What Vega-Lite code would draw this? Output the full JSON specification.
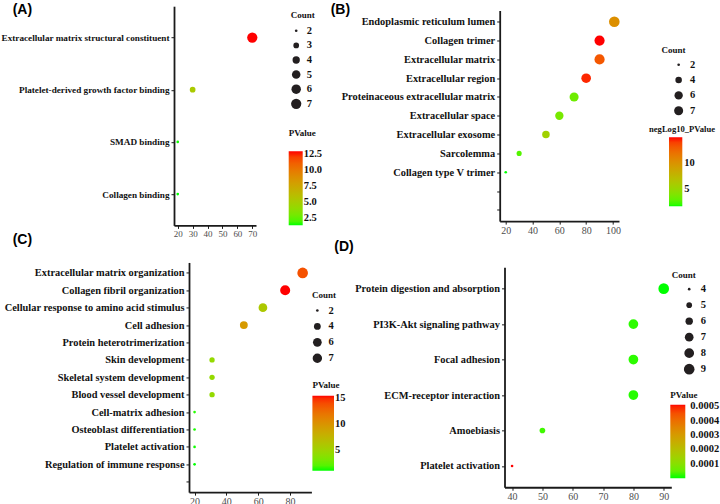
{
  "$schema": "https://vega.github.io/schema/vega-lite/v6.json",
  "padding": {"left": 0, "top": 2.8, "right": 0, "bottom": 0},
  "datasets": {
    "A": [
      {"Term": "Extracellular matrix structural constituent", "Ratio": 70, "Count": 7, "PValue": 12.92},
      {"Term": "Platelet-derived growth factor binding", "Ratio": 30, "Count": 3, "PValue": 5.2},
      {"Term": "SMAD binding", "Ratio": 20, "Count": 2, "PValue": 1.45},
      {"Term": "Collagen binding", "Ratio": 20, "Count": 2, "PValue": 1.41}
    ],
    "B": [
      {"Term": "Endoplasmic reticulum lumen", "Ratio": 101, "Count": 10, "negLog10_PValue": 10.3},
      {"Term": "Collagen trimer", "Ratio": 90, "Count": 9, "negLog10_PValue": 15},
      {"Term": "Extracellular matrix", "Ratio": 90, "Count": 9, "negLog10_PValue": 13.2},
      {"Term": "Extracellular region", "Ratio": 80, "Count": 8, "negLog10_PValue": 14.6},
      {"Term": "Proteinaceous extracellular matrix", "Ratio": 71, "Count": 7, "negLog10_PValue": 3.3},
      {"Term": "Extracellular space", "Ratio": 60, "Count": 6, "negLog10_PValue": 3.6},
      {"Term": "Extracellular exosome", "Ratio": 50, "Count": 5, "negLog10_PValue": 5.5},
      {"Term": "Sarcolemma", "Ratio": 30, "Count": 3, "negLog10_PValue": 2.6},
      {"Term": "Collagen type V trimer", "Ratio": 20, "Count": 2, "negLog10_PValue": 1.7}
    ],
    "C": [
      {"Term": "Extracellular matrix organization", "Ratio": 88, "Count": 9, "PValue": 13.8},
      {"Term": "Collagen fibril organization", "Ratio": 77, "Count": 8, "PValue": 15.5},
      {"Term": "Cellular response to amino acid stimulus", "Ratio": 63, "Count": 6, "PValue": 5.9},
      {"Term": "Cell adhesion", "Ratio": 51, "Count": 5, "PValue": 9.6},
      {"Term": "Skin development", "Ratio": 31, "Count": 3, "PValue": 4.4},
      {"Term": "Skeletal system development", "Ratio": 31, "Count": 3, "PValue": 4.4},
      {"Term": "Blood vessel development", "Ratio": 31, "Count": 3, "PValue": 4.4},
      {"Term": "Cell-matrix adhesion", "Ratio": 20, "Count": 2, "PValue": 1.2},
      {"Term": "Osteoblast differentiation", "Ratio": 20, "Count": 2, "PValue": 1.1},
      {"Term": "Platelet activation", "Ratio": 20, "Count": 2, "PValue": 1.05},
      {"Term": "Regulation of immune response", "Ratio": 20, "Count": 2, "PValue": 1.0}
    ],
    "D": [
      {"Term": "Protein digestion and absorption", "Ratio": 90, "Count": 9, "PValue": 0.0000005},
      {"Term": "PI3K-Akt signaling pathway", "Ratio": 80, "Count": 8, "PValue": 0.00001},
      {"Term": "Focal adhesion", "Ratio": 80, "Count": 8, "PValue": 0.00001},
      {"Term": "ECM-receptor interaction", "Ratio": 80, "Count": 8, "PValue": 0.000008},
      {"Term": "Amoebiasis", "Ratio": 50, "Count": 5, "PValue": 0.00002},
      {"Term": "Platelet activation", "Ratio": 40, "Count": 4, "PValue": 0.00051}
    ]
  },
  "concat": [
    {
      "hconcat": [
        {
          "data": {"name": "A"},
          "width": 82,
          "height": 219.2,
          "title": {"text": "(A)", "anchor": "start", "frame": "group", "orient": "top", "baseline": "alphabetic", "offset": 0, "dx": -161.3, "dy": 22.1},
          "mark": {"type": "circle", "opacity": 1},
          "encoding": {
            "x": {"field": "Ratio", "type": "quantitative", "scale": {"domain": [17.5, 72.5], "nice": false, "zero": false}, "axis": {"values": [20, 30, 40, 50, 60, 70], "labelFontSize": 9}},
            "y": {"field": "Term", "type": "nominal", "sort": null, "scale": {"type": "point", "padding": 0.6, "domain": ["Extracellular matrix structural constituent", "Platelet-derived growth factor binding", "SMAD binding", "Collagen binding"]}, "axis": {"labelFontSize": 9.2}},
            "size": {"field": "Count", "type": "quantitative", "scale": {"type": "sqrt", "zero": false, "domain": [2, 7], "range": [7, 105]},
              "legend": {"title": "Count", "orient": "none", "legendX": 116.7, "legendY": 4.6, "values": [2, 3, 4, 5, 6, 7], "clipHeight": 12, "rowPadding": 2.6, "titlePadding": 5, "labelOffset": 5}},
            "color": {"field": "PValue", "type": "quantitative", "scale": {"type": "linear", "domain": [1.41, 12.92], "range": ["#00ff00", "#ff0000"], "interpolate": "lab"},
              "legend": {"title": "PValue", "orient": "none", "legendX": 114.7, "legendY": 123, "direction": "vertical", "gradientLength": 74, "gradientThickness": 14, "values": [2.5, 5, 7.5, 10, 12.5], "format": ".1f", "labelOffset": 1, "titlePadding": 13}}
          }
        },
        {
          "data": {"name": "B"},
          "width": 119.3,
          "height": 210.6,
          "title": {"text": "(B)", "anchor": "start", "frame": "group", "orient": "top", "baseline": "alphabetic", "offset": 0, "dx": -169, "dy": 17.8},
          "mark": {"type": "circle", "opacity": 1},
          "encoding": {
            "x": {"field": "Ratio", "type": "quantitative", "scale": {"domain": [15.5, 104.5], "nice": false, "zero": false}, "axis": {"values": [20, 40, 60, 80, 100]}},
            "y": {"field": "Term", "type": "nominal", "sort": null, "scale": {"type": "point", "padding": 0.6, "domain": ["Endoplasmic reticulum lumen", "Collagen trimer", "Extracellular matrix", "Extracellular region", "Proteinaceous extracellular matrix", "Extracellular space", "Extracellular exosome", "Sarcolemma", "Collagen type V trimer", " ", "  "]}},
            "size": {"field": "Count", "type": "quantitative", "scale": {"type": "sqrt", "zero": false, "domain": [2, 10], "range": [7, 113]},
              "legend": {"title": "Count", "orient": "none", "legendX": 161.7, "legendY": 35.3, "values": [2, 4, 6, 7], "clipHeight": 12, "rowPadding": 3.3, "titlePadding": 4, "labelOffset": 6, "titleAlign": "center", "titleAnchor": "start"}},
            "color": {"field": "negLog10_PValue", "type": "quantitative", "scale": {"type": "linear", "domain": [1.7, 15], "range": ["#00ff00", "#ff0000"], "interpolate": "lab"},
              "legend": {"title": "negLog10_PValue", "titleFontSize": 8.6, "orient": "none", "legendX": 149.3, "legendY": 114.8, "direction": "vertical", "gradientLength": 69, "gradientThickness": 13.3, "values": [5, 10], "labelOffset": 2, "titlePadding": 3.3, "titleAlign": "center", "titleAnchor": "middle"}}
          }
        }
      ],
      "spacing": 243.7,
      "bounds": "flush",
      "center": true,
      "resolve": {"scale": {"x": "independent", "y": "independent", "size": "independent", "color": "independent"}, "legend": {"size": "independent", "color": "independent"}}
    },
    {
      "hconcat": [
        {
          "data": {"name": "C"},
          "width": 137.4,
          "height": 229.7,
          "title": {"text": "(C)", "anchor": "start", "frame": "group", "orient": "top", "baseline": "alphabetic", "offset": 0, "dx": -161.3, "dy": -4.4},
          "mark": {"type": "circle", "opacity": 1},
          "encoding": {
            "x": {"field": "Ratio", "type": "quantitative", "scale": {"domain": [16.5, 93.5], "range": [15, 137.4], "nice": false, "zero": false}, "axis": {"values": [20, 40, 60, 80]}},
            "y": {"field": "Term", "type": "nominal", "sort": null, "scale": {"type": "point", "padding": 0.6, "domain": ["Extracellular matrix organization", "Collagen fibril organization", "Cellular response to amino acid stimulus", "Cell adhesion", "Protein heterotrimerization", "Skin development", "Skeletal system development", "Blood vessel development", "Cell-matrix adhesion", "Osteoblast differentiation", "Platelet activation", "Regulation of immune response", " "]}, "axis": {"offset": -15, "labelFontSize": 10.4}},
            "size": {"field": "Count", "type": "quantitative", "scale": {"type": "sqrt", "zero": false, "domain": [2, 9], "range": [7, 113]},
              "legend": {"title": "Count", "orient": "none", "legendX": 138.1, "legendY": 28.1, "values": [2, 4, 6, 7], "clipHeight": 12, "rowPadding": 3.9, "titlePadding": 5, "labelOffset": 6}},
            "color": {"field": "PValue", "type": "quantitative", "scale": {"type": "linear", "domain": [1.0, 15.5], "range": ["#00ff00", "#ff0000"], "interpolate": "lab"},
              "legend": {"title": "PValue", "orient": "none", "legendX": 138.4, "legendY": 118.4, "direction": "vertical", "gradientLength": 75, "gradientThickness": 21.6, "values": [5, 10, 15], "labelOffset": 1, "titlePadding": 5.9}}
          }
        },
        {
          "data": {"name": "D"},
          "width": 166.8,
          "height": 219.9,
          "title": {"text": "(D)", "anchor": "start", "frame": "group", "orient": "top", "baseline": "alphabetic", "offset": 0, "dx": -170.2, "dy": -2.75},
          "mark": {"type": "circle", "opacity": 1},
          "encoding": {
            "x": {"field": "Ratio", "type": "quantitative", "scale": {"domain": [37.5, 92.5], "nice": false, "zero": false}, "axis": {"values": [40, 50, 60, 70, 80, 90]}},
            "y": {"field": "Term", "type": "nominal", "sort": null, "scale": {"type": "point", "padding": 0.6, "domain": ["Protein digestion and absorption", "PI3K-Akt signaling pathway", "Focal adhesion", "ECM-receptor interaction", "Amoebiasis", "Platelet activation"]}},
            "size": {"field": "Count", "type": "quantitative", "scale": {"type": "sqrt", "zero": false, "domain": [4, 9], "range": [7, 113]},
              "legend": {"title": "Count", "orient": "none", "legendX": 167.2, "legendY": 3.6, "values": [4, 5, 6, 7, 8, 9], "clipHeight": 12, "rowPadding": 4, "titlePadding": 3.2, "labelOffset": 6, "titleAlign": "center", "titleAnchor": "start"}},
            "color": {"field": "PValue", "type": "quantitative", "scale": {"type": "linear", "domain": [0.0000005, 0.00051], "range": ["#00ff00", "#ff0000"], "interpolate": "lab"},
              "legend": {"title": "PValue", "orient": "none", "legendX": 165.8, "legendY": 124, "direction": "vertical", "gradientLength": 73.3, "gradientThickness": 15, "values": [0.0001, 0.0002, 0.0003, 0.0004, 0.0005], "format": ".4f", "labelOffset": 5, "titlePadding": 4.5}}
          }
        }
      ],
      "spacing": 192.5,
      "bounds": "flush",
      "center": true,
      "resolve": {"scale": {"x": "independent", "y": "independent", "size": "independent", "color": "independent"}, "legend": {"size": "independent", "color": "independent"}}
    }
  ],
  "columns": 1,
  "spacing": -6.5,
  "resolve": {"scale": {"x": "independent", "y": "independent", "size": "independent", "color": "independent"}, "legend": {"size": "independent", "color": "independent"}},
  "config": {
    "view": {"stroke": null},
    "font": "Liberation Serif",
    "title": {"font": "Liberation Sans", "fontSize": 14, "fontWeight": "bold", "color": "#000000"},
    "axis": {"grid": false, "title": null, "domainColor": "#1a1a1a", "domainWidth": 1.8, "tickColor": "#1a1a1a", "tickWidth": 1, "tickSize": 3},
    "axisY": {"labelFont": "Liberation Serif", "labelFontWeight": "bold", "labelColor": "#111111", "labelFontSize": 10.4, "labelPadding": 2, "labelLimit": 400},
    "axisX": {"labelFont": "Liberation Serif", "labelColor": "#4d4d4d", "labelFontSize": 10, "labelPadding": 1, "labelFlush": false},
    "legend": {"padding": 0, "titleFont": "Liberation Serif", "titleFontSize": 9, "titleFontWeight": "bold", "titleColor": "#111111", "labelFont": "Liberation Serif", "labelFontSize": 10.5, "labelFontWeight": "bold", "labelColor": "#111111", "symbolFillColor": "#231f20", "symbolStrokeWidth": 0, "symbolType": "circle", "labelOverlap": false, "gradientStrokeWidth": 0}
  }
}
